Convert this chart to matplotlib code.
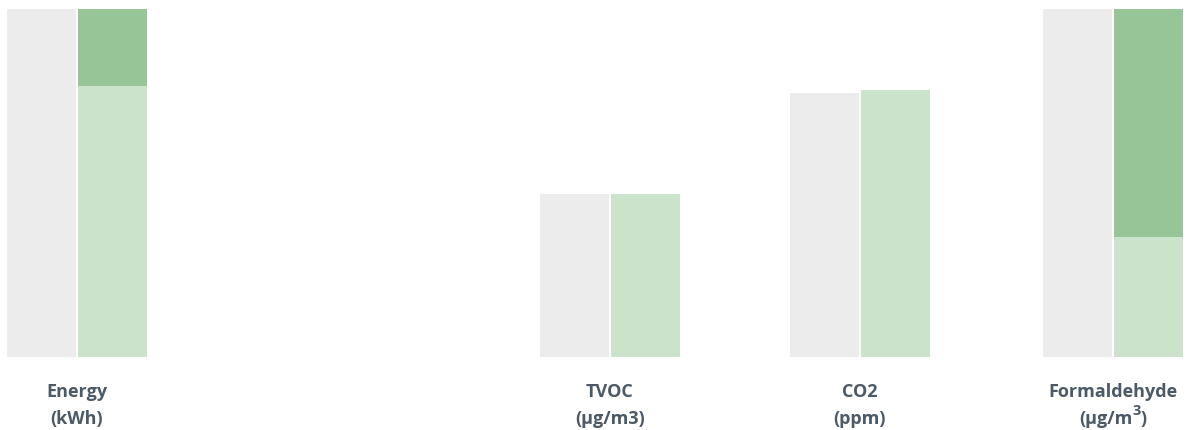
import matplotlib
matplotlib.use("Agg")
import matplotlib.pyplot as plt

# ---- data (percent of category maximum) ----
names = ["Energy", "TVOC", "CO2", "Formaldehyde"]
units = ["(kWh)", "(µg/m3)", "(ppm)", ("(µg/m", "3", ")")]
baseline = [100, 46.7, 75.8, 100.3]        # grey bars
after = [77.8, 46.7, 76.7, 34.3]            # light green part
reduction = [22.2, 0, 0, 65.7]              # dark green stacked part

# ---- layout ----
W, H = 1187, 431
centers = [77, 610, 860, 1113]   # category centres in pixel units along x
bar_w = 69
gap = 2

plt.rcParams['font.family'] = ['Open Sans', 'DejaVu Sans']

fig = plt.figure(figsize=(W / 100, H / 100), dpi=100)
ax = fig.add_axes([0, (H - 357.5) / H, 1, (357.5 - 9.5) / H])
ax.set_xlim(0, W)
ax.set_ylim(0, 100)
ax.axis('off')

grey = '#ececec'
light = '#cbe3cb'
dark = '#98c597'

left_x = [c - gap / 2 - bar_w / 2 for c in centers]
right_x = [c + gap / 2 + bar_w / 2 for c in centers]
ax.bar(left_x, baseline, width=bar_w, color=grey, linewidth=0)
ax.bar(right_x, after, width=bar_w, color=light, linewidth=0)
ax.bar(right_x, reduction, width=bar_w, bottom=after, color=dark, linewidth=0)

txt_color = '#4b5a66'
renderer = fig.canvas.get_renderer()
kw = dict(fontweight='bold', color=txt_color, va='baseline')
for c, n, u in zip(centers, names, units):
    fig.text(c / W, 1 - 397 / H, n, ha='center', fontsize=13, **kw)
    if isinstance(u, str):
        fig.text(c / W, 1 - 424 / H, u, ha='center', fontsize=13, **kw)
    else:
        main, sup, close = u
        # measure pieces, then lay them out left to right centred on c
        pieces = [(main, 13, 424), (sup, 10.5, 415), (close, 13, 424)]
        arts = []
        for s, fs, yb in pieces:
            t = fig.text(0, 1 - yb / H, s, ha='left', fontsize=fs, **kw)
            arts.append(t)
        widths = [a.get_window_extent(renderer).width for a in arts]
        x = c - sum(widths) / 2
        for a, w in zip(arts, widths):
            a.set_x(x / W)
            x += w

fig.savefig('out.png', dpi=100)
